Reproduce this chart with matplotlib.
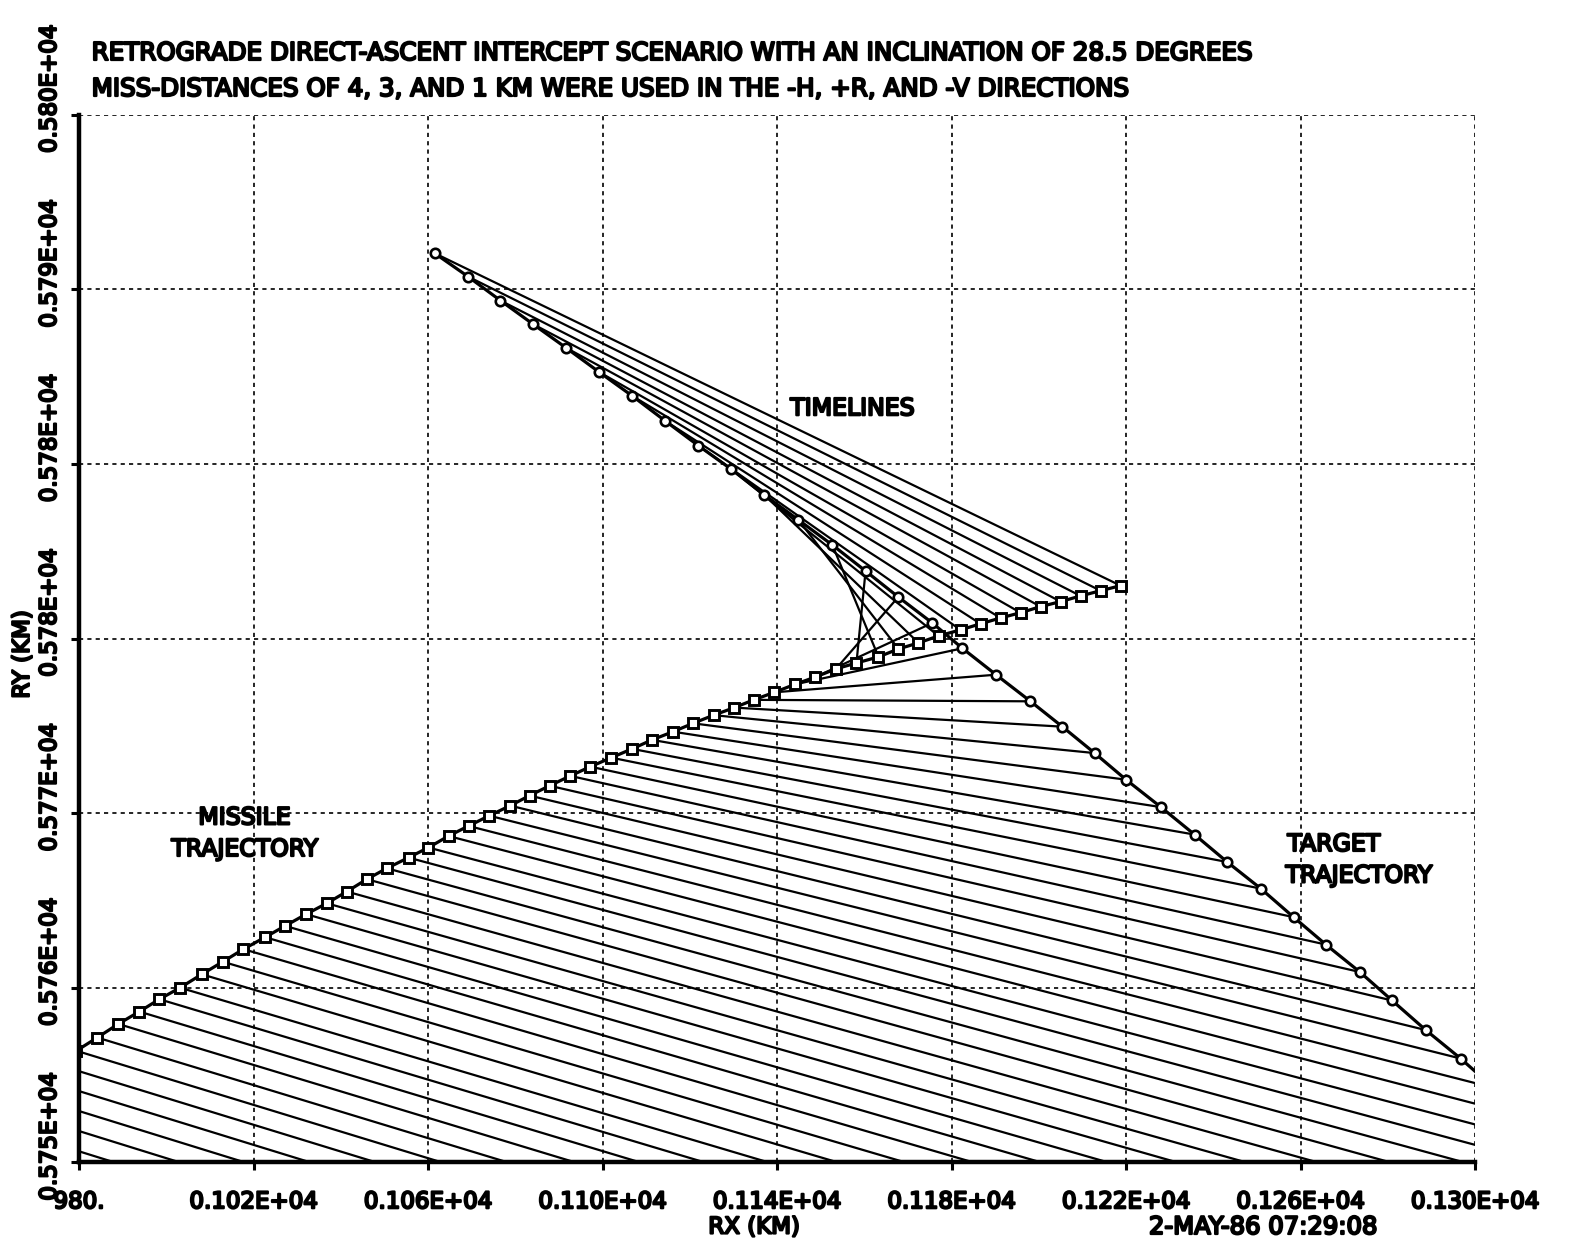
import matplotlib
matplotlib.use('Agg')
import matplotlib.pyplot as plt
import matplotlib.transforms as mtransforms
import matplotlib.patheffects as pe

# positions in km, one point per time step, earliest first.
# the first 25 target points lie below/right of the plotted window and only
# show up as the far ends of the timelines.
target_x = [1486.7, 1479.1, 1471.5, 1463.9, 1456.3, 1448.7, 1441.1, 1433.5, 1425.9, 1418.3,
            1410.7, 1403.1, 1395.5, 1387.9, 1380.3, 1372.7, 1365.1, 1357.5, 1349.9, 1342.3,
            1334.7, 1327.1, 1319.5, 1311.9, 1304.3,
            1296.7, 1288.7, 1281.0, 1273.6, 1265.8, 1258.4, 1250.9, 1243.2, 1235.7, 1228.0,
            1220.0, 1212.8, 1205.4, 1198.1, 1190.2, 1182.5, 1175.6, 1167.8, 1160.3, 1152.7,
            1144.9, 1137.1, 1129.5, 1122.0, 1114.4, 1106.8, 1099.2, 1091.6, 1084.1, 1076.6,
            1069.2, 1061.5]
target_y = [5717.61, 5719.20, 5720.78, 5722.36, 5723.92, 5725.48, 5727.03, 5728.57, 5730.11, 5731.63,
            5733.15, 5734.66, 5736.16, 5737.66, 5739.14, 5740.62, 5742.09, 5743.55, 5745.01, 5746.45,
            5747.89, 5749.32, 5750.74, 5752.16, 5753.56,
            5754.96, 5756.32, 5757.73, 5759.09, 5760.40, 5761.71, 5763.07, 5764.34, 5765.65, 5766.96,
            5768.27, 5769.54, 5770.80, 5772.01, 5773.28, 5774.54, 5775.75, 5776.99, 5778.23, 5779.47,
            5780.67, 5781.86, 5783.09, 5784.21, 5785.39, 5786.59, 5787.73, 5788.89, 5790.01, 5791.14,
            5792.28, 5793.40]

# missile, same time steps (first 6 are left of the window)
missile_x = [955.4, 960.2, 965.0, 969.8, 974.6, 979.4,
             984.20, 989.01, 993.83, 998.42, 1003.17, 1008.14, 1012.96, 1017.68, 1022.66, 1027.25,
             1032.06, 1036.81, 1041.40, 1045.99, 1050.57, 1055.53, 1060.11, 1064.70, 1069.29, 1074.04,
             1078.85, 1083.28, 1087.87, 1092.61, 1097.20, 1102.02, 1106.77, 1111.35, 1116.17, 1120.76,
             1125.48, 1130.23, 1134.66, 1139.40, 1144.11, 1148.81, 1153.51, 1158.21, 1163.26, 1167.84,
             1172.43, 1177.02, 1182.06, 1186.65, 1191.24, 1195.83, 1200.41, 1205.00, 1209.59, 1214.17,
             1218.76]
missile_y = [5752.13, 5752.78, 5753.42, 5754.06, 5754.70, 5755.33,
             5755.96, 5756.61, 5757.20, 5757.79, 5758.34, 5758.98, 5759.58, 5760.18, 5760.75, 5761.29,
             5761.85, 5762.37, 5762.93, 5763.52, 5764.04, 5764.55, 5765.03, 5765.58, 5766.06, 5766.55,
             5767.03, 5767.51, 5767.98, 5768.45, 5768.89, 5769.32, 5769.74, 5770.17, 5770.56, 5770.96,
             5771.35, 5771.71, 5772.08, 5772.44, 5772.82, 5773.17, 5773.56, 5773.84, 5774.13, 5774.51,
             5774.80, 5775.13, 5775.42, 5775.71, 5775.99, 5776.24, 5776.53, 5776.77, 5777.04, 5777.29,
             5777.53]

x_ticks = [980, 1020, 1060, 1100, 1140, 1180, 1220, 1260, 1300]
x_tick_labels = ['980.', '0.102E+04', '0.106E+04', '0.110E+04', '0.114E+04',
                 '0.118E+04', '0.122E+04', '0.126E+04', '0.130E+04']
y_ticks = [5750.0, 5758.333, 5766.667, 5775.0, 5783.333, 5791.667, 5800.0]
y_tick_labels = ['0.575E+04', '0.576E+04', '0.577E+04', '0.578E+04',
                 '0.578E+04', '0.579E+04', '0.580E+04']

title_1 = 'RETROGRADE DIRECT-ASCENT INTERCEPT SCENARIO WITH AN INCLINATION OF 28.5 DEGREES'
title_2 = 'MISS-DISTANCES OF 4, 3, AND 1 KM WERE USED IN THE -H, +R, AND -V DIRECTIONS'

plt.rcParams['font.family'] = 'DejaVu Sans'
# plotter pen: thicken the glyph strokes a little
pen = [pe.withStroke(linewidth=1.6, foreground='black')]

fig = plt.figure(figsize=(15.96, 12.49), dpi=100)
ax = fig.add_axes([0.0495, 0.0693, 0.8747, 0.8387])

# timelines: missile and target at the same instant
for mx, my, tx, ty in zip(missile_x, missile_y, target_x, target_y):
    ax.plot([mx, tx], [my, ty], color='black', lw=1.6)

ax.plot(missile_x, missile_y, color='black', lw=2.3, zorder=3)
ax.plot(target_x, target_y, color='black', lw=2.3, zorder=3)
ax.plot(missile_x, missile_y, ls='none', marker='s', ms=6.5, mfc='white',
        mec='black', mew=2.1, zorder=4)
ax.plot(target_x, target_y, ls='none', marker='o', ms=6.8, mfc='white',
        mec='black', mew=1.9, zorder=4)

ax.set_xlim(980, 1300)
ax.set_ylim(5750, 5800)
ax.set_xticks(x_ticks)
ax.set_xticklabels(x_tick_labels)
ax.set_yticks(y_ticks)
ax.set_yticklabels(y_tick_labels)

ax.grid(True, color='black', lw=1.2, ls=(0, (2.5, 2.5)))
for side in ['top', 'right']:
    ax.spines[side].set_visible(False)
for side in ['left', 'bottom']:
    ax.spines[side].set_linewidth(3.2)
    ax.spines[side].set_zorder(5)

ax.tick_params(direction='out', length=6, width=2.2, labelsize=16.5)
ax.tick_params(axis='x', pad=14)
ax.tick_params(axis='y', pad=7, labelrotation=90)
shift = mtransforms.ScaledTranslation(0, 0.26, fig.dpi_scale_trans)
for lab in ax.get_yticklabels():
    lab.set_verticalalignment('center')
    lab.set_transform(lab.get_transform() + shift)
    lab.set_path_effects(pen)
for lab in ax.get_xticklabels():
    lab.set_path_effects(pen)

# annotations
ax.text(1157.4, 5786.0, 'TIMELINES', fontsize=17, ha='center', va='center', path_effects=pen)
ax.text(1018.0, 5766.47, 'MISSILE', fontsize=17, ha='center', va='center', path_effects=pen)
ax.text(1018.1, 5764.96, 'TRAJECTORY', fontsize=17, ha='center', va='center', path_effects=pen)
ax.text(1267.7, 5765.2, 'TARGET', fontsize=17, ha='center', va='center', path_effects=pen)
ax.text(1273.5, 5763.7, 'TRAJECTORY', fontsize=17, ha='center', va='center', path_effects=pen)

fig.text(91.6 / 1596, 1 - 53 / 1249, title_1, fontsize=17.7, ha='left', va='center', path_effects=pen)
fig.text(91.6 / 1596, 1 - 89 / 1249, title_2, fontsize=17.7, ha='left', va='center', path_effects=pen)

fig.text(754 / 1596, 1 - 1227 / 1249, 'RX (KM)', fontsize=16.5, ha='center', va='center', path_effects=pen)
fig.text(1263 / 1596, 1 - 1227 / 1249, '2-MAY-86 07:29:08', fontsize=17.5, ha='center', va='center',
         path_effects=pen)
fig.text(22.4 / 1596, 1 - 654.5 / 1249, 'RY (KM)', fontsize=16.5, rotation=90, ha='center', va='center',
         path_effects=pen)

fig.savefig('out.png', dpi=100)
